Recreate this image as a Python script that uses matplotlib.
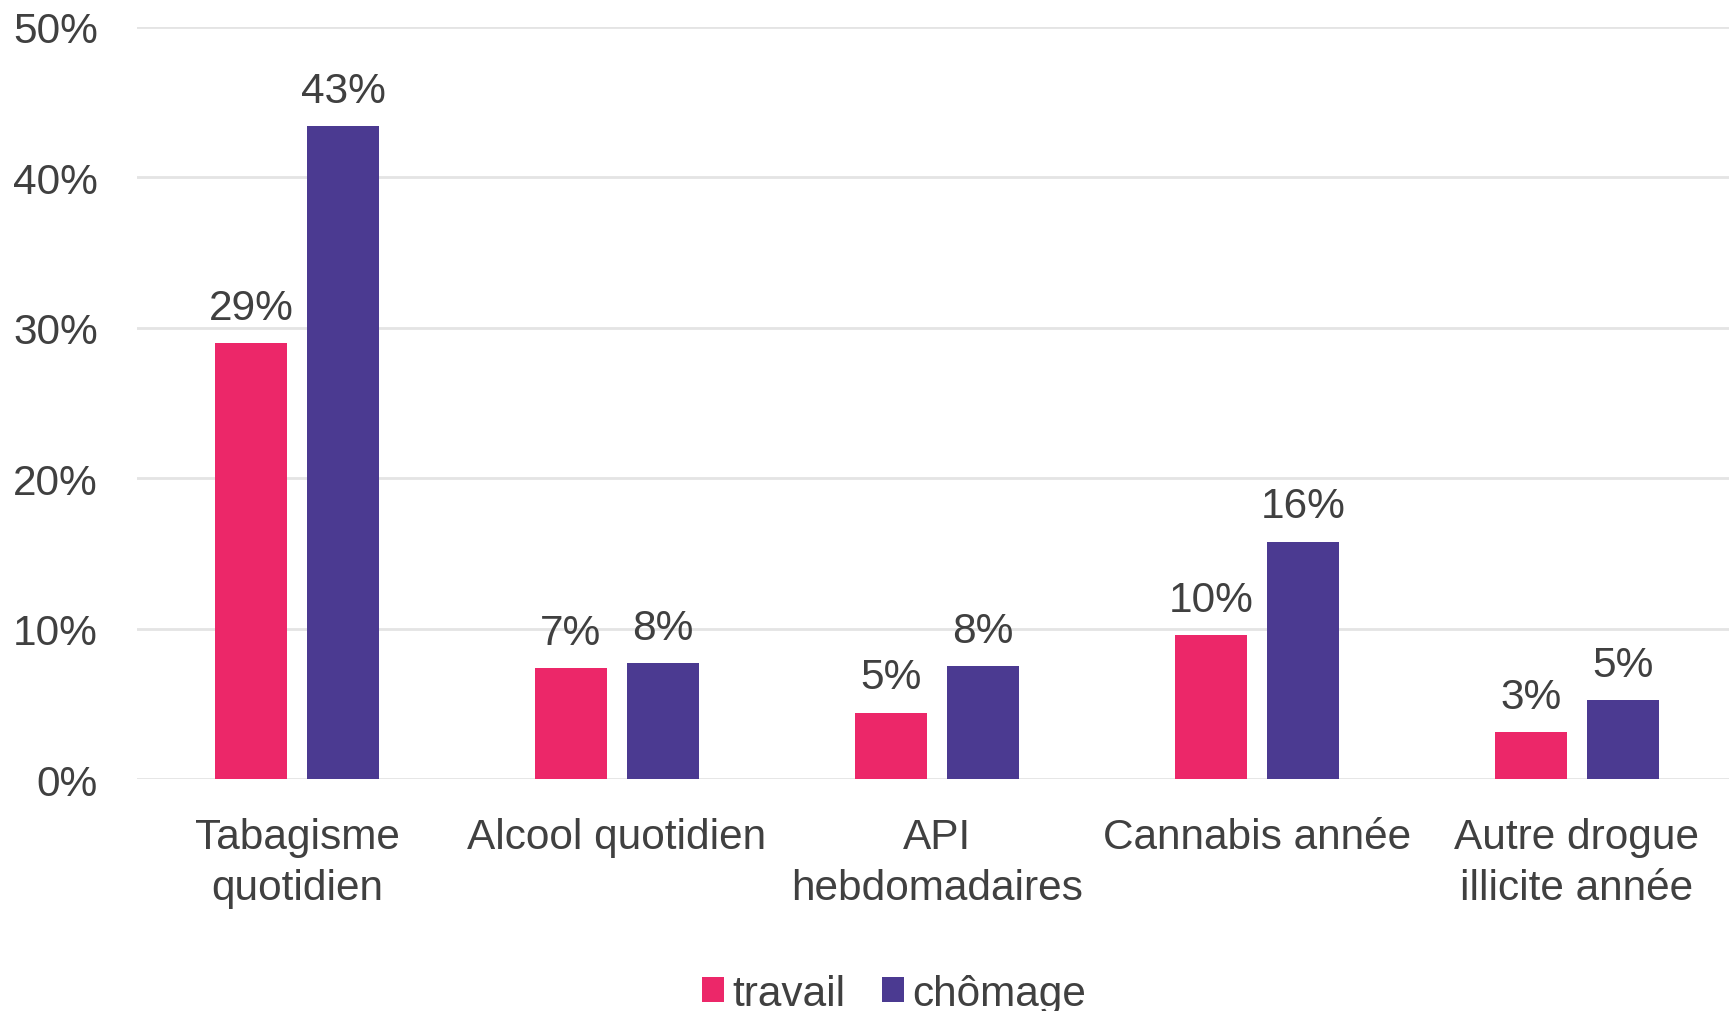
import matplotlib
matplotlib.use("Agg")
import matplotlib.pyplot as plt
import numpy as np
from matplotlib.patches import Patch

categories = ["Tabagisme\nquotidien", "Alcool quotidien", "API\nhebdomadaires",
              "Cannabis année", "Autre drogue\nillicite année"]
travail = [28.95, 7.36, 4.42, 9.55, 3.10]
chomage = [43.4, 7.72, 7.50, 15.78, 5.23]
travail_labels = ["29%", "7%", "5%", "10%", "3%"]
chomage_labels = ["43%", "8%", "8%", "16%", "5%"]
yticks = [0, 10, 20, 30, 40, 50]
ytick_labels = ["0%", "10%", "20%", "30%", "40%", "50%"]
series_names = ["travail", "chômage"]

pink = "#EC2769"
purple = "#4B3A91"
txt = "#404040"
FS = 30.5

plt.rcParams['font.family'] = ['Liberation Sans', 'DejaVu Sans']

fig = plt.figure(figsize=(17.29, 10.12), dpi=100)
ax = fig.add_axes([0.0792, 0.2292, 0.9208, 0.7434])

x = np.arange(len(categories))
w = 0.225
off = 0.144
b1 = ax.bar(x - off, travail, w, color=pink, zorder=3)
b2 = ax.bar(x + off, chomage, w, color=purple, zorder=3)

for bars, labs in ((b1, travail_labels), (b2, chomage_labels)):
    for rect, lab in zip(bars, labs):
        ax.annotate(lab, (rect.get_x() + rect.get_width() / 2, rect.get_height()),
                    xytext=(0, 11), textcoords="offset points",
                    ha="center", va="bottom", fontsize=FS, color=txt)

ax.set_xlim(-0.5, 4.475)
ax.set_ylim(0, 50)
ax.set_yticks(yticks)
ax.set_yticklabels(ytick_labels)
ax.set_xticks(x)
ax.set_xticklabels(categories, linespacing=1.36)
ax.tick_params(axis="y", length=0, pad=28, labelsize=FS, labelcolor=txt)
ax.tick_params(axis="x", length=0, pad=27, labelsize=FS, labelcolor=txt)
ax.yaxis.grid(True, color="#E4E4E4", linewidth=2, zorder=0)
ax.set_axisbelow(True)
for s in ax.spines.values():
    s.set_visible(False)
for lab in ax.get_yticklabels():
    lab.set_va("center_baseline")

handles = [Patch(facecolor=pink), Patch(facecolor=purple)]
fig.legend(handles, series_names, loc="center", bbox_to_anchor=(0.517, 0.017),
           ncol=2, frameon=False, fontsize=FS, handlelength=0.52, handleheight=0.52,
           handletextpad=0.2, columnspacing=0.85, labelcolor=txt)

fig.savefig("out.png", dpi=100, facecolor="white")
